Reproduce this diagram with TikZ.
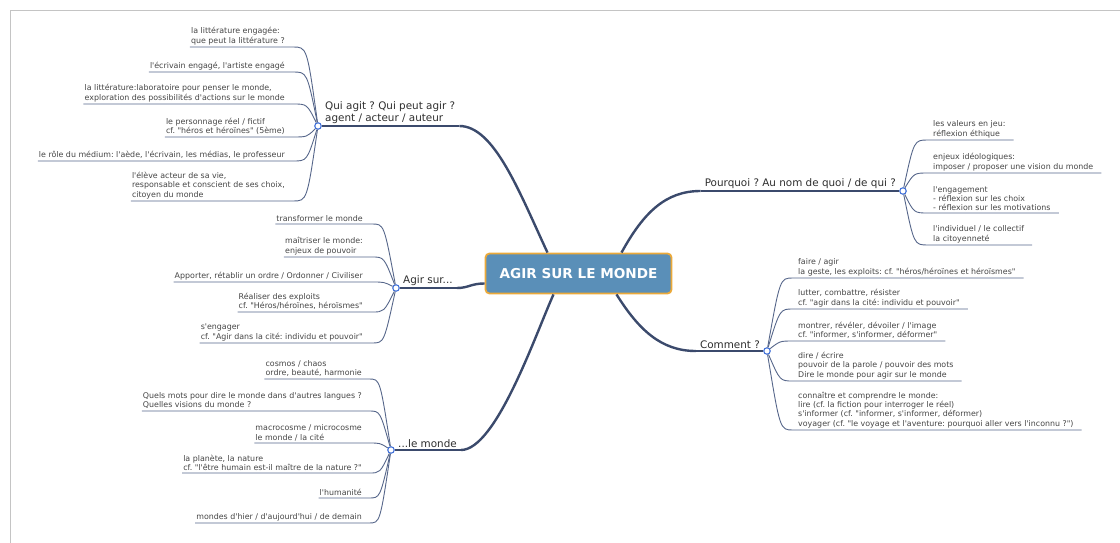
\documentclass[tikz,border=0pt]{standalone}
\usepackage{fontspec}
\setmainfont{DejaVu Sans}[Ligatures=TeXOff]
\usepackage{xcolor}
\usepackage{tikz}
\frenchspacing

\definecolor{hubfill}{HTML}{5A8FB8}
\definecolor{hubrim}{HTML}{EBA93A}
\definecolor{trunkblue}{HTML}{3B4A6C}
\definecolor{twigblue}{HTML}{56668A}
\definecolor{knotblue}{HTML}{3F6FD8}
\definecolor{leafgray}{HTML}{454545}
\definecolor{branchgray}{HTML}{2E2E2E}
\definecolor{rimgray}{HTML}{C4C4C4}

\tikzset{
  hub/.style={rectangle, rounded corners=4pt, fill=hubfill, draw=hubrim, line width=1.8pt,
    minimum width=186pt, minimum height=40pt, text=white,
    font=\fontsize{13.6}{16}\selectfont\bfseries},
  branch/.style={font=\fontsize{10.4}{12}\selectfont, text=branchgray, align=left,
    inner xsep=4pt, inner ysep=2pt},
  leaf/.style={font=\fontsize{7.9}{9.2}\selectfont, text=leafgray, align=left,
    inner xsep=1pt, inner ysep=2pt},
  knot/.style={circle, draw=knotblue, fill=white, line width=1.1pt, minimum size=6.5pt, inner sep=0pt},
  trunk/.style={draw=trunkblue, line width=2.4pt},
  stem/.style={draw=trunkblue, line width=1.4pt},
  twig/.style={draw=twigblue, line width=0.9pt},
  rimline/.style={draw=rimgray, line width=0.8pt}
}

\begin{document}
\begin{tikzpicture}[x=1pt, y=-1pt]
	\useasboundingbox (0,0) rectangle (1120,543);
	\draw[rimline] (1120,10) -- (10,10) -- (10,543);

	% centre
	\node[hub] (hub) at (578.5,273.5) {AGIR SUR LE MONDE};

	% main branches
	\node[knot] (qc) at (318,126) {};
	\node[branch, anchor=south west] (qa) at (321,126) {Qui agit ? Qui peut agir ?\\agent / acteur / auteur};
	\node[knot] (ac) at (396,288) {};
	\node[branch, anchor=south west] (ag) at (399,288) {Agir sur...};
	\node[knot] (mc) at (391,450) {};
	\node[branch, anchor=south west] (lm) at (394,450) {...le monde};
	\node[knot] (pc) at (903,191) {};
	\node[branch, anchor=south east] (po) at (900,191) {Pourquoi ? Au nom de quoi / de qui ?};
	\node[knot] (cc) at (767,351) {};
	\node[branch, anchor=south east] (co) at (764,351) {Comment ?};

	\draw[trunk] ([xshift=-31]hub.north) .. controls +(-28,-60) and +(35,0) .. (qa.south east);
	\draw[stem] (qa.south east) -- (qc);
	\draw[trunk] ([yshift=-10]hub.west) .. controls +(-14,0) and +(12,0) .. (ag.south east);
	\draw[stem] (ag.south east) -- (ac);
	\draw[trunk] ([xshift=-25]hub.south) .. controls +(-18,40) and +(35,0) .. (lm.south east);
	\draw[stem] (lm.south east) -- (mc);
	\draw[trunk] ([xshift=43]hub.north) .. controls +(22,-40) and +(-35,0) .. (po.south west);
	\draw[stem] (po.south west) -- (pc);
	\draw[trunk] ([xshift=38]hub.south) .. controls +(22,35) and +(-35,0) .. (co.south west);
	\draw[stem] (co.south west) -- (cc);

	% qui agit
	\node[leaf, anchor=south east] (q1) at (286,47) {la littérature engagée:\\que peut la littérature ?};
	\node[leaf, anchor=south east] (q2) at (286,72) {l'écrivain engagé, l'artiste engagé};
	\node[leaf, anchor=south east] (q3) at (286,104) {la littérature:laboratoire pour penser le monde,\\exploration des possibilités d'actions sur le monde};
	\node[leaf, anchor=south east] (q4) at (286,137) {le personnage réel / fictif\\cf. "héros et héroïnes" (5ème)};
	\node[leaf, anchor=south east] (q5) at (286,161) {le rôle du médium: l'aède, l'écrivain, les médias, le professeur};
	\node[leaf, anchor=south east] (q6) at (286,201) {l'élève acteur de sa vie,\\responsable et conscient de ses choix,\\citoyen du monde};

	\draw[twig] (qc) .. controls ([xshift=21]q1.south east) .. ([xshift=7]q1.south east) -- (q1.south west);
	\draw[twig] (qc) .. controls ([xshift=21]q2.south east) .. ([xshift=7]q2.south east) -- (q2.south west);
	\draw[twig] (qc) .. controls ([xshift=21]q3.south east) .. ([xshift=7]q3.south east) -- (q3.south west);
	\draw[twig] (qc) .. controls ([xshift=21]q4.south east) .. ([xshift=7]q4.south east) -- (q4.south west);
	\draw[twig] (qc) .. controls ([xshift=21]q5.south east) .. ([xshift=7]q5.south east) -- (q5.south west);
	\draw[twig] (qc) .. controls ([xshift=21]q6.south east) .. ([xshift=7]q6.south east) -- (q6.south west);

	% agir sur
	\node[leaf, anchor=south east] (a1) at (364,224) {transformer le monde};
	\node[leaf, anchor=south east] (a2) at (364,257) {maîtriser le monde:\\enjeux de pouvoir};
	\node[leaf, anchor=south east] (a3) at (364,282) {Apporter, rétablir un ordre / Ordonner / Civiliser};
	\node[leaf, anchor=south east] (a4) at (364,312) {Réaliser des exploits\\cf. "Héros/héroïnes, héroïsmes"};
	\node[leaf, anchor=south east] (a5) at (364,343) {s'engager\\cf. "Agir dans la cité: individu et pouvoir"};

	\draw[twig] (ac) .. controls ([xshift=20]a1.south east) .. ([xshift=8]a1.south east) -- (a1.south west);
	\draw[twig] (ac) .. controls ([xshift=20]a2.south east) .. ([xshift=8]a2.south east) -- (a2.south west);
	\draw[twig] (ac) .. controls ([xshift=20]a3.south east) .. ([xshift=8]a3.south east) -- (a3.south west);
	\draw[twig] (ac) .. controls ([xshift=20]a4.south east) .. ([xshift=8]a4.south east) -- (a4.south west);
	\draw[twig] (ac) .. controls ([xshift=20]a5.south east) .. ([xshift=8]a5.south east) -- (a5.south west);

	% le monde
	\node[leaf, anchor=south east] (m1) at (363,379) {cosmos / chaos\\ordre, beauté, harmonie};
	\node[leaf, anchor=south east] (m2) at (363,411) {Quels mots pour dire le monde dans d'autres langues ?\\Quelles visions du monde ?};
	\node[leaf, anchor=south east] (m3) at (363,443) {macrocosme / microcosme\\le monde / la cité};
	\node[leaf, anchor=south east] (m4) at (363,473) {la planète, la nature\\cf. "l'être humain est-il maître de la nature ?"};
	\node[leaf, anchor=south east] (m5) at (363,498) {l'humanité};
	\node[leaf, anchor=south east] (m6) at (363,523) {mondes d'hier / d'aujourd'hui / de demain};

	\draw[twig] (mc) .. controls ([xshift=17]m1.south east) .. ([xshift=6]m1.south east) -- (m1.south west);
	\draw[twig] (mc) .. controls ([xshift=17]m2.south east) .. ([xshift=6]m2.south east) -- (m2.south west);
	\draw[twig] (mc) .. controls ([xshift=17]m3.south east) .. ([xshift=6]m3.south east) -- (m3.south west);
	\draw[twig] (mc) .. controls ([xshift=17]m4.south east) .. ([xshift=6]m4.south east) -- (m4.south west);
	\draw[twig] (mc) .. controls ([xshift=17]m5.south east) .. ([xshift=6]m5.south east) -- (m5.south west);
	\draw[twig] (mc) .. controls ([xshift=17]m6.south east) .. ([xshift=6]m6.south east) -- (m6.south west);

	% pourquoi
	\node[leaf, anchor=south west] (p1) at (932,140) {les valeurs en jeu:\\réflexion éthique};
	\node[leaf, anchor=south west] (p2) at (932,173) {enjeux idéologiques:\\imposer / proposer une vision du monde};
	\node[leaf, anchor=south west] (p3) at (932,213) {l'engagement\\- réflexion sur les choix\\- réflexion sur les motivations};
	\node[leaf, anchor=south west] (p4) at (932,245) {l'individuel / le collectif\\la citoyenneté};

	\draw[twig] (pc) .. controls ([xshift=-18]p1.south west) .. ([xshift=-4]p1.south west) -- ([xshift=7]p1.south east);
	\draw[twig] (pc) .. controls ([xshift=-18]p2.south west) .. ([xshift=-4]p2.south west) -- ([xshift=7]p2.south east);
	\draw[twig] (pc) .. controls ([xshift=-18]p3.south west) .. ([xshift=-4]p3.south west) -- ([xshift=7]p3.south east);
	\draw[twig] (pc) .. controls ([xshift=-18]p4.south west) .. ([xshift=-4]p4.south west) -- ([xshift=7]p4.south east);

	% comment
	\node[leaf, anchor=south west] (c1) at (797,278) {faire / agir\\la geste, les exploits: cf. "héros/héroïnes et héroïsmes"};
	\node[leaf, anchor=south west] (c2) at (797,309) {lutter, combattre, résister\\cf. "agir dans la cité: individu et pouvoir"};
	\node[leaf, anchor=south west] (c3) at (797,341) {montrer, révéler, dévoiler / l'image\\cf. "informer, s'informer, déformer"};
	\node[leaf, anchor=south west] (c4) at (797,381) {dire / écrire\\pouvoir de la parole / pouvoir des mots\\Dire le monde pour agir sur le monde};
	\node[leaf, anchor=south west] (c5) at (797,430) {connaître et comprendre le monde:\\lire (cf. la fiction pour interroger le réel)\\s'informer (cf. "informer, s'informer, déformer)\\voyager (cf. "le voyage et l'aventure: pourquoi aller vers l'inconnu ?")};

	\draw[twig] (cc) .. controls ([xshift=-17]c1.south west) .. ([xshift=-4]c1.south west) -- ([xshift=7]c1.south east);
	\draw[twig] (cc) .. controls ([xshift=-17]c2.south west) .. ([xshift=-4]c2.south west) -- ([xshift=7]c2.south east);
	\draw[twig] (cc) .. controls ([xshift=-17]c3.south west) .. ([xshift=-4]c3.south west) -- ([xshift=7]c3.south east);
	\draw[twig] (cc) .. controls ([xshift=-17]c4.south west) .. ([xshift=-4]c4.south west) -- ([xshift=7]c4.south east);
	\draw[twig] (cc) .. controls ([xshift=-17]c5.south west) .. ([xshift=-4]c5.south west) -- ([xshift=7]c5.south east);
\end{tikzpicture}
\end{document}
